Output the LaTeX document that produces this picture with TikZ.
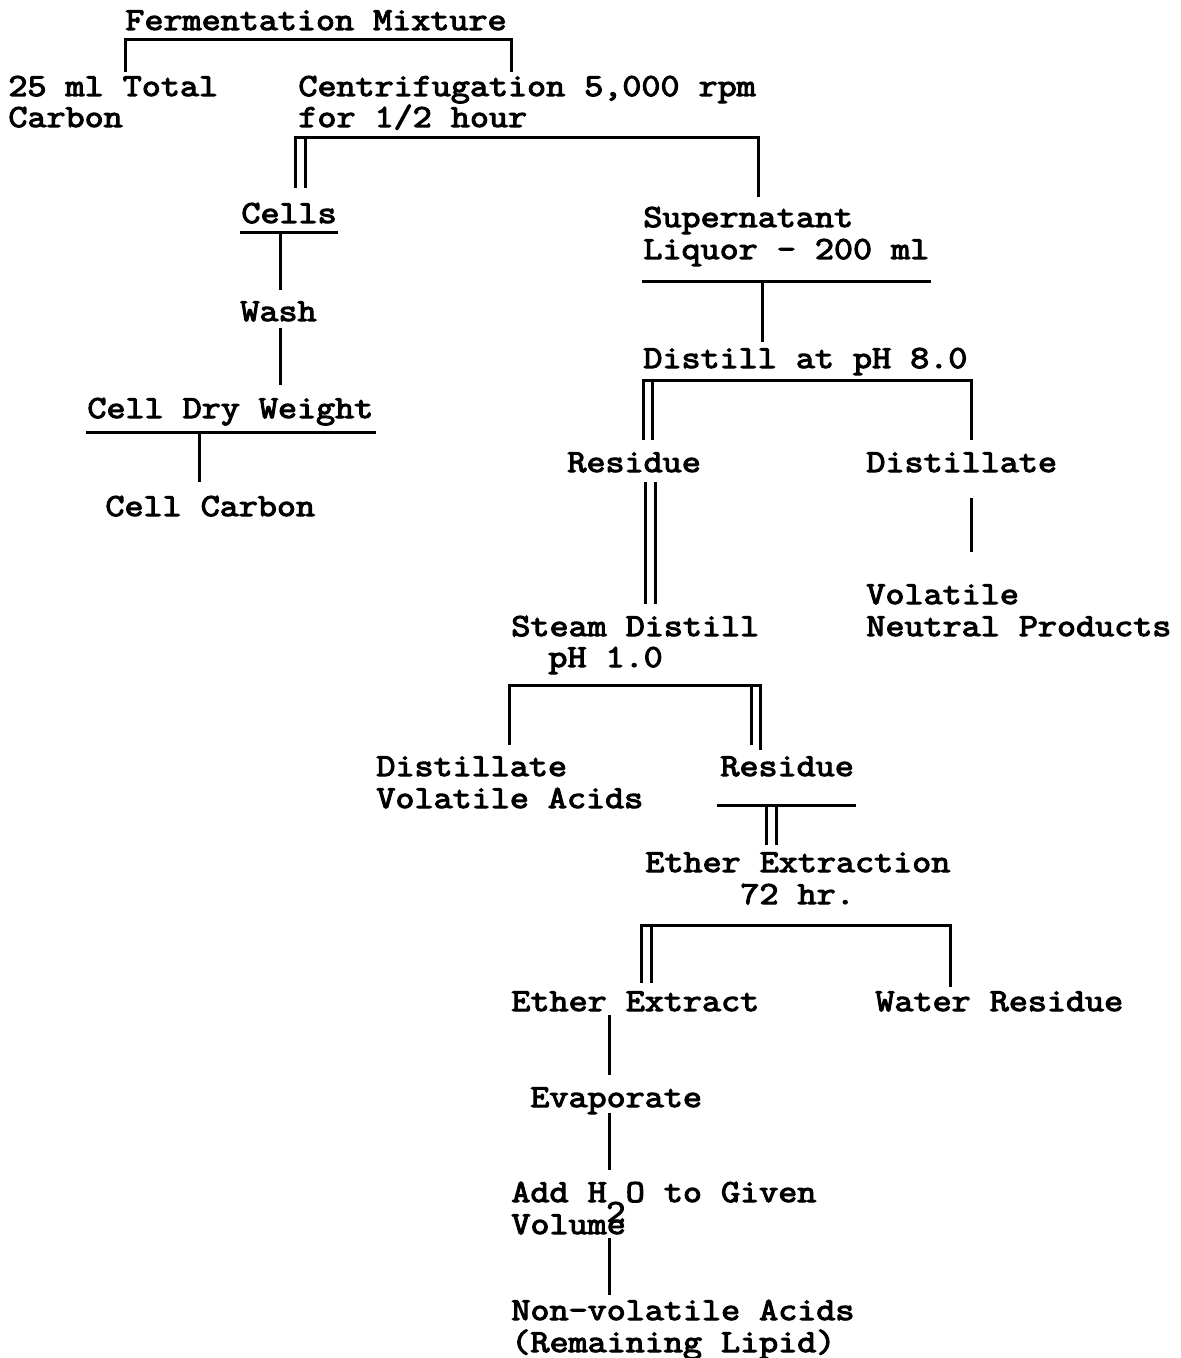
\documentclass[tikz,border=0pt]{standalone}
\usepackage{fontspec}
\newfontfamily\twfont{Latin Modern Mono}[FakeBold=3.5,FakeStretch=1.15]
\newcommand{\tw}{\twfont\fontsize{16.09}{15.75}\selectfont}
\begin{document}
\begin{tikzpicture}[x=0.5pt,y=-0.5pt,
  lbl/.style={anchor=base west,inner sep=0pt,font=\tw},
  ln/.style={line width=1.5pt}]
\useasboundingbox (0,0) rectangle (1181,1358);
% texts
\node[lbl] (ferm) at (125,30) {Fermentation Mixture};
\node[lbl] (tca) at (8,96) {25 ml Total};
\node[lbl] (tcb) at (8,127) {Carbon};
\node[lbl] (cena) at (298,96) {Centrifugation 5,000 rpm};
\node[lbl] (cenb) at (298,127) {for 1/2 hour};
\node[lbl] (cells) at (241,223) {Cells};
\node[lbl] (wash) at (240,321) {Wash};
\node[lbl] (cdw) at (87,418) {Cell Dry Weight};
\node[lbl] (cc) at (105,516) {Cell Carbon};
\node[lbl] (supa) at (643,227) {Supernatant};
\node[lbl] (supb) at (643,259) {Liquor - 200 ml};
\node[lbl] (dist) at (643,368) {Distill at pH 8.0};
\node[lbl] (resa) at (567,472) {Residue};
\node[lbl] (dla) at (866,472) {Distillate};
\node[lbl] (vna) at (866,604) {Volatile};
\node[lbl] (vnb) at (866,636) {Neutral Products};
\node[lbl] (sda) at (511,636) {Steam Distill};
\node[lbl] (sdb) at (548,667) {pH 1.0};
\node[lbl] (dva) at (376,776) {Distillate};
\node[lbl] (dvb) at (376,808) {Volatile Acids};
\node[lbl] (resb) at (720,776) {Residue};
\node[lbl] (eea) at (645,872) {Ether Extraction};
\node[lbl] (eeb) at (740,904) {72 hr.};
\node[lbl] (eext) at (511,1011) {Ether Extract};
\node[lbl] (wres) at (875,1011) {Water Residue};
\node[lbl] (evap) at (530,1107) {Evaporate};
\node[lbl] (adda) at (511,1202) {Add H O to Given};
\node[lbl] (two) at (606,1222) {2};
\node[lbl] (addb) at (511,1234) {Volume};
\node[lbl] (nva) at (511,1320) {Non-volatile Acids};
\node[lbl] (nvb) at (511,1352) {(Remaining Lipid)};
% coordinates
\coordinate (f1) at (125,72); \coordinate (f2) at (125,40);
\coordinate (f3) at (511,40); \coordinate (f4) at (511,72);
\coordinate (c1) at (295,188); \coordinate (c2) at (295,138);
\coordinate (c3) at (758,138); \coordinate (c4) at (758,197);
\coordinate (c5) at (305,138); \coordinate (c6) at (305,188);
\coordinate (u1) at (240,233); \coordinate (u2) at (338,233);
\coordinate (w1) at (280,233); \coordinate (w2) at (280,290);
\coordinate (w3) at (280,328); \coordinate (w4) at (280,385);
\coordinate (d1) at (86,432); \coordinate (d2) at (376,432);
\coordinate (d3) at (199,432); \coordinate (d4) at (199,482);
\coordinate (s1) at (642,282); \coordinate (s2) at (931,282);
\coordinate (s3) at (762,282); \coordinate (s4) at (762,342);
\coordinate (p1) at (643,440); \coordinate (p2) at (643,380);
\coordinate (p3) at (971,380); \coordinate (p4) at (971,440);
\coordinate (p5) at (652,380); \coordinate (p6) at (652,440);
\coordinate (r1) at (645,482); \coordinate (r2) at (645,604);
\coordinate (r3) at (655,482); \coordinate (r4) at (655,604);
\coordinate (v1) at (971,498); \coordinate (v2) at (971,552);
\coordinate (q1) at (509,745); \coordinate (q2) at (509,685);
\coordinate (q3) at (760,685); \coordinate (q4) at (760,750);
\coordinate (q5) at (751,685); \coordinate (q6) at (751,745);
\coordinate (e1) at (717,805); \coordinate (e2) at (856,805);
\coordinate (e3) at (766,805); \coordinate (e4) at (766,845);
\coordinate (e5) at (776,805); \coordinate (e6) at (776,845);
\coordinate (x1) at (641,983); \coordinate (x2) at (641,925);
\coordinate (x3) at (950,925); \coordinate (x4) at (950,987);
\coordinate (x5) at (651,925); \coordinate (x6) at (651,983);
\coordinate (k1) at (609,1015); \coordinate (k2) at (609,1075);
\coordinate (k3) at (609,1113); \coordinate (k4) at (609,1170);
\coordinate (k5) at (609,1238); \coordinate (k6) at (609,1295);
% connectors
\draw[ln] (f1) -- (f2) -- (f3) -- (f4);
\draw[ln] (c1) -- (c2) -- (c3) -- (c4);
\draw[ln] (c5) -- (c6);
\draw[ln] (u1) -- (u2);
\draw[ln] (w1) -- (w2);
\draw[ln] (w3) -- (w4);
\draw[ln] (d1) -- (d2);
\draw[ln] (d3) -- (d4);
\draw[ln] (s1) -- (s2);
\draw[ln] (s3) -- (s4);
\draw[ln] (p1) -- (p2) -- (p3) -- (p4);
\draw[ln] (p5) -- (p6);
\draw[ln] (r1) -- (r2);
\draw[ln] (r3) -- (r4);
\draw[ln] (v1) -- (v2);
\draw[ln] (q1) -- (q2) -- (q3) -- (q4);
\draw[ln] (q5) -- (q6);
\draw[ln] (e1) -- (e2);
\draw[ln] (e3) -- (e4);
\draw[ln] (e5) -- (e6);
\draw[ln] (x1) -- (x2) -- (x3) -- (x4);
\draw[ln] (x5) -- (x6);
\draw[ln] (k1) -- (k2);
\draw[ln] (k3) -- (k4);
\draw[ln] (k5) -- (k6);
\end{tikzpicture}
\end{document}
